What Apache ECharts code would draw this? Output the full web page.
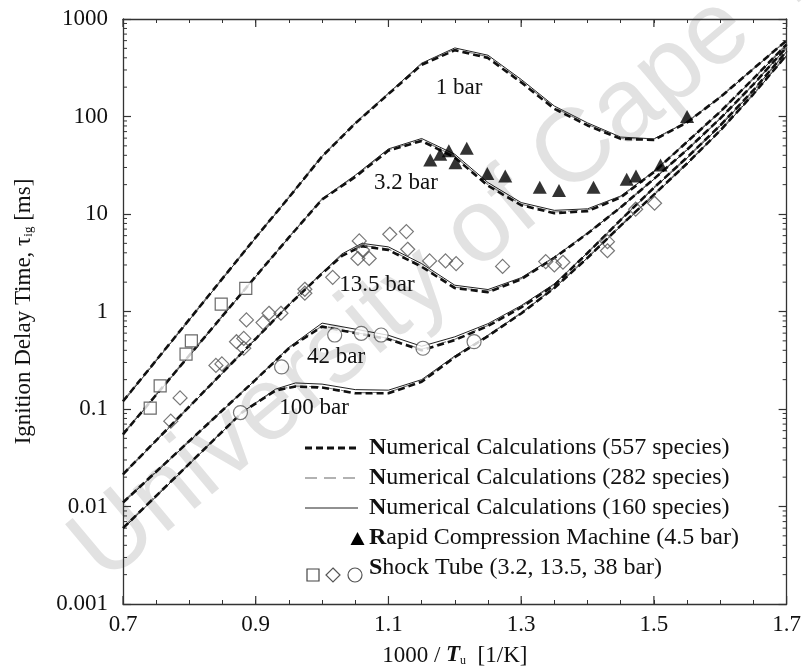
<!DOCTYPE html>
<html><head><meta charset="utf-8">
<script src="https://cdn.jsdelivr.net/npm/echarts@6/dist/echarts.min.js"></script>
<style>html,body{margin:0;padding:0;background:#fff}#c{width:804px;height:672px}</style>
</head><body><div id="c"></div>
<script>
// ---------- data ----------
const x_1bar = [0.7,0.8,0.9,0.95,1.0,1.05,1.1,1.15,1.2,1.25,1.3,1.35,1.4,1.45,1.5,1.55,1.6,1.65,1.7];
const t557_1bar = [0.120,0.83,5.75,14.8,38.9,85,170,339,479,398,224,120,81,59,57.5,87,158,309,603];
const t282_1bar = [0.121,0.84,5.8,15.0,39.5,86,172,345,490,410,230,124,83,60,58.5,88,160,312,606];
const t160_1bar = [0.118,0.82,5.7,14.7,39.0,86,173,352,505,425,240,128,86,61.5,59,88,158,308,600];

const x_3bar = [0.7,0.8,0.9,0.95,1.0,1.05,1.1,1.15,1.2,1.25,1.3,1.35,1.4,1.45,1.5,1.55,1.6,1.65,1.7];
const t557_3bar = [0.055,0.355,2.29,5.75,14.1,24,44.7,56.2,38,19.5,12.3,10.2,10.7,14.8,26.9,55,112,245,550];
const t282_3bar = [0.056,0.36,2.32,5.8,14.3,24.5,45.5,57.5,39,20,12.6,10.5,11.0,15.1,27.3,55.5,113,247,553];
const t160_3bar = [0.055,0.35,2.28,5.75,14.3,25,46.5,59.5,41,21,13.1,10.9,11.3,15.3,27.3,55,111,243,545];

const x_13bar = [0.7,0.8,0.9,0.95,1.0,1.03,1.06,1.1,1.15,1.2,1.25,1.3,1.35,1.4,1.45,1.5,1.55,1.6,1.65,1.7];
const t557_13bar = [0.0214,0.106,0.525,1.17,2.45,3.72,4.68,4.27,2.88,1.74,1.58,2.14,3.55,6.31,11.7,22.9,45.7,95.5,214,513];
const t282_13bar = [0.0216,0.107,0.53,1.18,2.48,3.78,4.78,4.38,2.95,1.78,1.61,2.17,3.6,6.4,11.8,23.1,46,96,215,515];
const t160_13bar = [0.0212,0.105,0.52,1.17,2.5,3.9,5.0,4.6,3.1,1.86,1.68,2.22,3.62,6.35,11.7,22.7,45.3,94.5,212,508];

const x_42bar = [0.7,0.8,0.9,0.95,1.0,1.05,1.1,1.15,1.2,1.25,1.3,1.35,1.4,1.45,1.5,1.55,1.6,1.65,1.7];
const t557_42bar = [0.011,0.047,0.2,0.42,0.70,0.60,0.52,0.40,0.51,0.71,1.10,1.86,3.98,8.7,18.6,38,81,186,468];
const t282_42bar = [0.0112,0.0475,0.202,0.425,0.71,0.61,0.53,0.41,0.52,0.72,1.12,1.9,4.05,8.8,18.8,38.4,82,187,470];
const t160_42bar = [0.0109,0.0465,0.2,0.43,0.76,0.66,0.57,0.44,0.55,0.75,1.15,1.92,4.0,8.7,18.4,37.5,80,184,463];

const x_100bar = [0.7,0.8,0.88,0.93,0.96,1.0,1.05,1.1,1.15,1.2,1.25,1.3,1.35,1.4,1.45,1.5,1.55,1.6,1.65,1.7];
const t557_100bar = [0.006,0.0275,0.093,0.155,0.17,0.166,0.145,0.145,0.19,0.34,0.56,0.955,1.74,3.55,7.6,15.8,33,72,170,427];
const t282_100bar = [0.0061,0.0278,0.094,0.157,0.172,0.168,0.147,0.148,0.195,0.345,0.57,0.97,1.77,3.6,7.7,16,33.4,72.5,171,430];
const t160_100bar = [0.0059,0.0272,0.093,0.16,0.185,0.18,0.158,0.156,0.2,0.35,0.57,0.96,1.75,3.55,7.5,15.6,32.6,71,168,423];

// Rapid compression machine (4.5 bar)
const rcmX = [1.163,1.178,1.191,1.201,1.218,1.249,1.276,1.328,1.357,1.409,1.459,1.473,1.510,1.550];
const rcmY = [35.8,41,44.6,33.6,47.2,26.1,24.5,18.8,17.4,18.8,22.7,24.5,31.8,100];
// Shock tube 3.2 bar (squares)
const stSqX = [0.741,0.756,0.795,0.803,0.848,0.885];
const stSqY = [0.102,0.173,0.366,0.50,1.19,1.73];
// Shock tube 13.5 bar (diamonds)
const stDmX = [0.772,0.786,0.840,0.849,0.871,0.882,0.882,0.886,0.911,0.920,0.938,0.974,0.974,1.016,1.054,1.056,1.061,1.071,1.102,1.127,1.129,1.162,1.186,1.202,1.272,1.337,1.350,1.363,1.430,1.430,1.4725,1.501];
const stDmY = [0.075,0.13,0.28,0.29,0.49,0.53,0.42,0.82,0.77,0.96,0.96,1.69,1.54,2.24,3.5,5.3,4.27,3.5,6.2,6.6,4.35,3.3,3.3,3.1,2.9,3.25,3.0,3.2,5.2,4.2,11.2,12.9];
// Shock tube 38 bar (circles)
const stCiX = [0.877,0.939,1.019,1.059,1.089,1.152,1.229];
const stCiY = [0.092,0.27,0.574,0.597,0.574,0.42,0.49];

const curveLabels = ['1 bar','3.2 bar','13.5 bar','42 bar','100 bar'];
const legendTexts = ['Numerical Calculations (557 species)','Numerical Calculations (282 species)','Numerical Calculations (160 species)','Rapid Compression Machine (4.5 bar)','Shock Tube (3.2, 13.5, 38 bar)'];
const xMajorTicks = [0.7,0.9,1.1,1.3,1.5,1.7];
const yMinorMantissa = [2,3,4,5,6,7,8,9];
const yDecades = [0.001,0.01,0.1,1,10,100];
// ----------------------------------------------------

const SERIF = '"Liberation Serif","Times New Roman",serif';
const pairs = (xs, ys) => xs.map((x, i) => [x, ys[i]]);
const S557 = {color:'#111', width:2.6, type:[7,4]};
const S282 = {color:'#777', width:1.1, type:[10,6]};
const S160 = {color:'#222', width:1};
function curve(name, xs, ys, st, z) {
  return {type:'line', name, data: pairs(xs, ys), symbol:'none', showSymbol:false, silent:true,
          lineStyle: st, itemStyle:{color: st.color}, z, animation:false};
}
const series = [];
const sets = [[x_1bar,t557_1bar,t282_1bar,t160_1bar],[x_3bar,t557_3bar,t282_3bar,t160_3bar],
              [x_13bar,t557_13bar,t282_13bar,t160_13bar],[x_42bar,t557_42bar,t282_42bar,t160_42bar],
              [x_100bar,t557_100bar,t282_100bar,t160_100bar]];
sets.forEach((s, k) => {
  series.push(curve('160 species ' + curveLabels[k], s[0], s[3], S160, 2));
  series.push(curve('282 species ' + curveLabels[k], s[0], s[2], S282, 3));
  series.push(curve('557 species ' + curveLabels[k], s[0], s[1], S557, 4));
});
series.push({type:'scatter', name:'RCM', data: pairs(rcmX, rcmY), symbol:'triangle', symbolSize:[14,13],
  itemStyle:{color:'#000'}, z:6, silent:true, animation:false});
series.push({type:'scatter', name:'ST 3.2', data: pairs(stSqX, stSqY), symbol:'rect', symbolSize:12,
  itemStyle:{color:'#fff', borderColor:'#444', borderWidth:1.2}, z:6, silent:true, animation:false});
series.push({type:'scatter', name:'ST 13.5', data: pairs(stDmX, stDmY), symbol:'diamond', symbolSize:14,
  itemStyle:{color:'rgba(0,0,0,0)', borderColor:'#555', borderWidth:1.2}, z:6, silent:true, animation:false});
series.push({type:'scatter', name:'ST 38', data: pairs(stCiX, stCiY), symbol:'circle', symbolSize:14,
  itemStyle:{color:'#fff', borderColor:'#555', borderWidth:1.2}, z:6, silent:true, animation:false});

// minor ticks on the log axis (left & right) drawn through the axis scale
const yMinor = [];
yDecades.forEach(d => yMinorMantissa.forEach(m => yMinor.push(m * d)));
series.push({type:'custom', name:'yMinorTicks', silent:true, clip:false, animation:false, z:1,
  data: yMinor.map(v => [1.2, v]), encode:{x:0, y:1},
  renderItem: (params, api) => {
    const cs = params.coordSys;
    const y = api.coord([1.2, api.value(1)])[1];
    const st = {stroke:'#333', lineWidth:1};
    return {type:'group', children:[
      {type:'line', shape:{x1:cs.x, y1:y, x2:cs.x+4, y2:y}, style:st},
      {type:'line', shape:{x1:cs.x+cs.width-4, y1:y, x2:cs.x+cs.width, y2:y}, style:st}
    ]};
  }});
// longer x ticks at labelled positions (bottom & top)
series.push({type:'custom', name:'xMajorTicks', silent:true, clip:false, animation:false, z:1,
  data: xMajorTicks.map(v => [v, 1]), encode:{x:0, y:1},
  renderItem: (params, api) => {
    const cs = params.coordSys;
    const x = api.coord([api.value(0), 1])[0];
    const st = {stroke:'#333', lineWidth:1.2};
    return {type:'group', children:[
      {type:'line', shape:{x1:x, y1:cs.y+cs.height, x2:x, y2:cs.y+cs.height-8}, style:st},
      {type:'line', shape:{x1:x, y1:cs.y, x2:x, y2:cs.y+8}, style:st}
    ]};
  }});

const axisLine = {show:true, lineStyle:{color:'#333', width:1.3}};
const logFmt = v => { const e = Math.round(Math.log10(v)); return e >= 0 ? String(Math.pow(10, e)) : Math.pow(10, e).toFixed(-e); };
const xFmt = v => (Math.round(v * 10) % 2 === 1) ? v.toFixed(1) : '';

const legendY = [448, 478, 508, 538, 568];
const graphic = [
  {type:'text', silent:true, z:-10, x:120, y:602, rotation: 40 * Math.PI / 180,
   style:{text:'University of Cape Town', fontFamily:'"Liberation Sans",Arial,sans-serif', fontSize:104,
          fill:'#e2e2e2', align:'left', verticalAlign:'bottom'}},
  {type:'line', silent:true, z:10, shape:{x1:305, y1:legendY[0], x2:358, y2:legendY[0]}, style:{stroke:'#111', lineWidth:3, lineDash:[7,4]}},
  {type:'line', silent:true, z:10, shape:{x1:305, y1:legendY[1], x2:358, y2:legendY[1]}, style:{stroke:'#666', lineWidth:1.1, lineDash:[12,7]}},
  {type:'line', silent:true, z:10, shape:{x1:305, y1:legendY[2], x2:358, y2:legendY[2]}, style:{stroke:'#222', lineWidth:1}},
  {type:'polygon', silent:true, z:10, shape:{points:[[350.5,legendY[3]+7],[364.5,legendY[3]+7],[357.5,legendY[3]-6]]}, style:{fill:'#000'}},
  {type:'rect', silent:true, z:10, shape:{x:307, y:legendY[4]+1, width:12, height:12}, style:{fill:'#fff', stroke:'#444', lineWidth:1.2}},
  {type:'polygon', silent:true, z:10, shape:{points:[[333,legendY[4]],[340,legendY[4]+7],[333,legendY[4]+14],[326,legendY[4]+7]]}, style:{fill:'#fff', stroke:'#555', lineWidth:1.2}},
  {type:'circle', silent:true, z:10, shape:{cx:355, cy:legendY[4]+7, r:7}, style:{fill:'#fff', stroke:'#555', lineWidth:1.2}}
];
legendTexts.forEach((t, i) => {
  graphic.push({type:'text', silent:true, z:10, x:369, y:legendY[i],
    style:{text:'{b|' + t.charAt(0) + '}' + t.slice(1), fontFamily:SERIF, fontSize:24, fill:'#111',
           align:'left', verticalAlign:'middle',
           rich:{b:{fontFamily:SERIF, fontSize:24, fontWeight:'bold', fill:'#111'}}}});
});
const labelPos = [[459,88],[406,183],[377,285],[336,357],[314,408]];
curveLabels.forEach((t, i) => {
  graphic.push({type:'text', silent:true, z:10, x:labelPos[i][0], y:labelPos[i][1],
    style:{text:t, fontFamily:SERIF, fontSize:23, fill:'#111', align:'center', verticalAlign:'middle'}});
});

const chart = echarts.init(document.getElementById('c'), null, {renderer:'canvas'});
chart.setOption({
  animation:false,
  backgroundColor:'#fff',
  grid:{left:123, right:16, top:19, bottom:68, containLabel:false},
  xAxis:[{
    type:'value', min:0.7, max:1.7, interval:0.1, position:'bottom',
    axisLine, splitLine:{show:false},
    axisTick:{show:true, inside:true, length:4, lineStyle:{color:'#333', width:1}},
    minorTick:{show:true, splitNumber:2, length:4, lineStyle:{color:'#333', width:1}},
    axisLabel:{formatter:xFmt, fontFamily:SERIF, fontSize:23, color:'#111', margin:9},
    name:'1000 / {t|T}{s|u}  [1/K]', nameLocation:'middle', nameGap:40,
    nameTextStyle:{fontFamily:SERIF, fontSize:23, color:'#111',
      rich:{t:{fontFamily:SERIF, fontSize:23, fontWeight:'bold', fontStyle:'italic'},
            s:{fontFamily:SERIF, fontSize:12, verticalAlign:'bottom', lineHeight:12}}}
  },{
    type:'value', min:0.7, max:1.7, interval:0.1, position:'top',
    axisLine, splitLine:{show:false},
    axisTick:{show:true, inside:true, length:4, lineStyle:{color:'#333', width:1}},
    minorTick:{show:true, splitNumber:2, length:4, lineStyle:{color:'#333', width:1}},
    axisLabel:{show:false}
  }],
  yAxis:[{
    type:'log', logBase:10, min:0.001, max:1000, position:'left',
    axisLine, splitLine:{show:false},
    axisTick:{show:true, inside:true, length:8, lineStyle:{color:'#333', width:1.2}},
    axisLabel:{formatter:logFmt, fontFamily:SERIF, fontSize:23, color:'#111', margin:15},
    name:'Ignition Delay Time, τ{s|ig} [ms]', nameLocation:'middle', nameRotate:90, nameGap:88,
    nameTextStyle:{fontFamily:SERIF, fontSize:23, color:'#111',
      rich:{s:{fontFamily:SERIF, fontSize:13, verticalAlign:'bottom', lineHeight:13}}}
  },{
    type:'log', logBase:10, min:0.001, max:1000, position:'right',
    axisLine, splitLine:{show:false},
    axisTick:{show:true, inside:true, length:8, lineStyle:{color:'#333', width:1.2}},
    axisLabel:{show:false}
  }],
  graphic,
  series
});
</script></body></html>
